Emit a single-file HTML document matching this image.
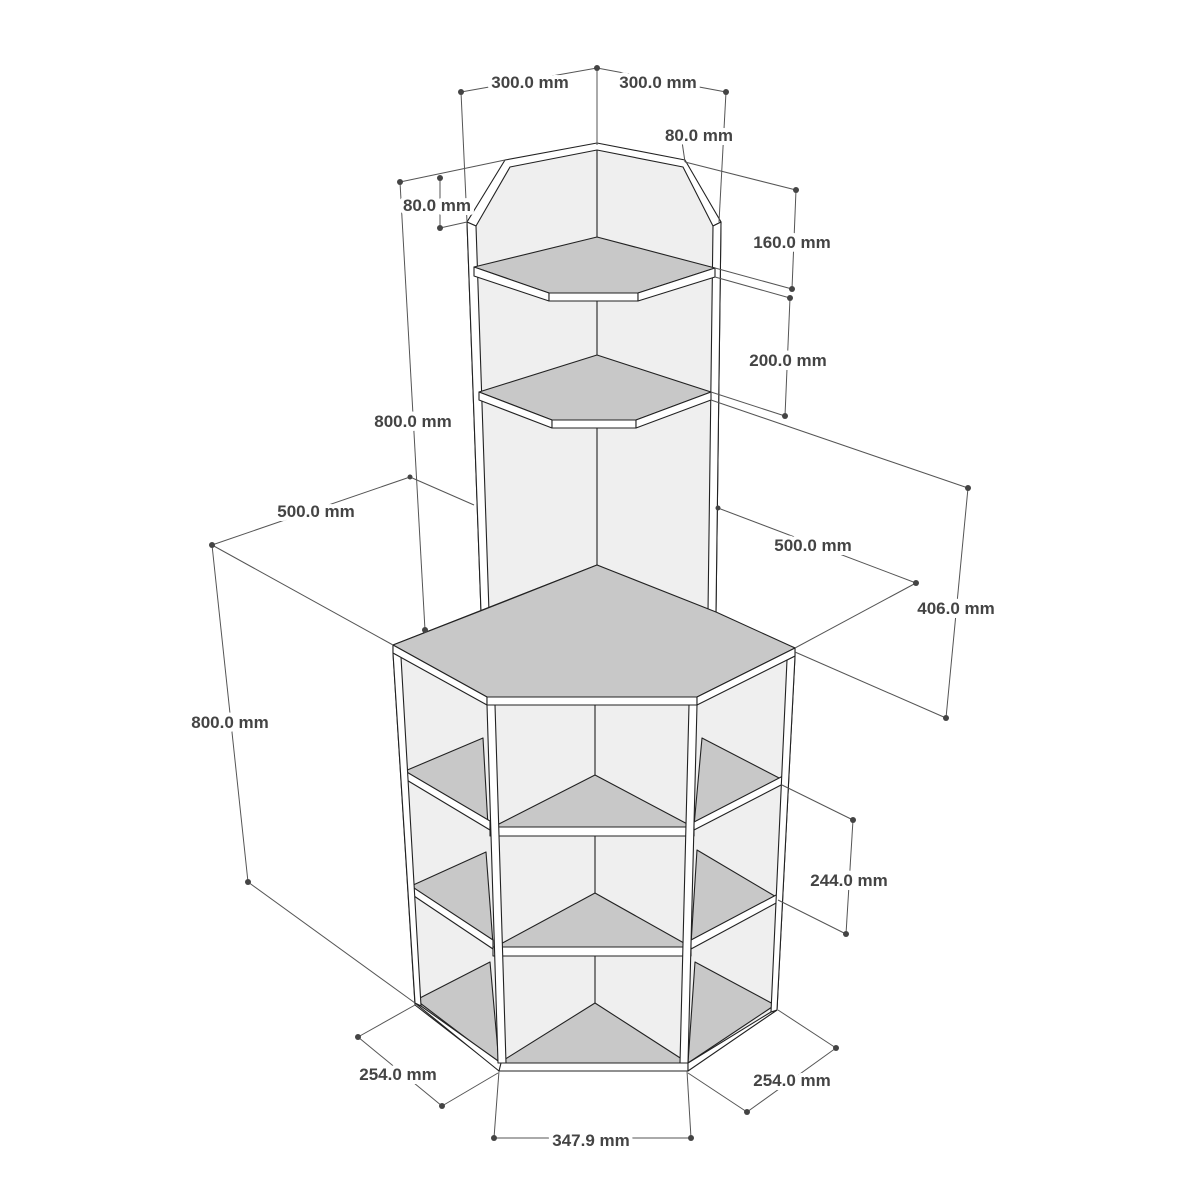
<!DOCTYPE html>
<html><head><style>
html,body{margin:0;padding:0;background:#fff;}
svg{display:block;}
text{font-family:"Liberation Sans",sans-serif;font-weight:bold;font-size:17px;fill:#444;text-anchor:middle;paint-order:stroke;stroke:#fff;stroke-width:8px;stroke-linejoin:round;}
.d{stroke:#555;stroke-width:1;fill:none;}
.p{stroke:#222;stroke-width:1.1;stroke-linejoin:round;}
.l{fill:#efefef;}.k{fill:#c8c8c8;}.w{fill:#fff;}
</style></head><body>
<svg width="1200" height="1200" viewBox="0 0 1200 1200">
<!-- upper unit -->
<polygon class="p l" points="467,222 505,162 597,145 685,162 721,222 716,612 481,612"/>
<polygon class="p w" points="467,222 505,160 597,143 685,160 721,222 713,226 683,167 597,150 510,167 476,226"/>
<polygon class="p w" points="467,222 476,226 489,612 481,612"/>
<polygon class="p w" points="713,226 721,222 716,612 708,612"/>
<line class="p" x1="597" y1="150" x2="597" y2="237"/>
<line class="p" x1="597" y1="301" x2="597" y2="355"/>
<line class="p" x1="597" y1="428" x2="597" y2="566"/>
<polygon class="p k" points="597,237 474,267 549,293 638,293 715,268"/>
<polygon class="p w" points="474,267 549,293 549,301 474,276"/>
<polygon class="p w" points="549,293 638,293 638,301 549,301"/>
<polygon class="p w" points="638,293 715,268 715,277 638,301"/>
<polygon class="p k" points="597,355 479,392 552,420 636,420 711,392"/>
<polygon class="p w" points="479,392 552,420 552,428 479,400"/>
<polygon class="p w" points="552,420 636,420 636,428 552,428"/>
<polygon class="p w" points="636,420 711,392 711,400 636,428"/>
<!-- lower unit -->
<polygon class="p l" points="393,645 597,565 795,648 795,656 777,1010 688,1070 499,1070 415,1005 393,653"/>
<line class="p" x1="595" y1="705" x2="595" y2="775"/>
<line class="p" x1="595" y1="836" x2="595" y2="893"/>
<line class="p" x1="595" y1="956" x2="595" y2="1003"/>
<polygon class="p k" points="595,775 493,827 693,827"/>
<polygon class="p k" points="595,893 495,947 691,947"/>
<polygon class="p k" points="595,1003 499,1063 688,1063"/>
<polygon class="p k" points="405,771 483,738 488,826"/>
<polygon class="p w" points="405,771 490,821 490,830 405,779"/>
<polygon class="p k" points="411,886 486,852 493,944"/>
<polygon class="p w" points="411,886 493,940 493,949 411,894"/>
<polygon class="p k" points="416,1000 490,962 499,1063"/>
<polygon class="p k" points="783,780 702,738 694,826"/>
<polygon class="p w" points="694,822 783,776 783,784 694,830"/>
<polygon class="p k" points="778,898 697,850 691,944"/>
<polygon class="p w" points="691,940 778,894 778,902 691,949"/>
<polygon class="p k" points="775,1005 695,962 688,1063"/>
<polygon class="p w" points="490,827 694,827 694,836 490,836"/>
<polygon class="p w" points="493,947 691,947 691,956 493,956"/>
<polygon class="p w" points="499,1063 688,1063 688,1071 499,1071"/>
<polygon class="p w" points="415,1003 421,1006 501,1063 499,1071"/>
<polygon class="p w" points="771,1012 777,1010 688,1071 688,1063"/>
<polygon class="p w" points="487,705 495,705 506,1063 498,1063"/>
<polygon class="p w" points="689,705 697,705 688,1063 680,1063"/>
<polygon class="p w" points="393,653 401,657 421,1006 415,1003"/>
<polygon class="p w" points="787,660 795,656 777,1010 771,1012"/>
<polygon class="p k" points="393,645 483,610 597,565 716,612 795,648 697,697 487,697"/>
<polygon class="p w" points="393,645 487,697 487,705 393,653"/>
<polygon class="p w" points="487,697 697,697 697,705 487,705"/>
<polygon class="p w" points="697,697 795,648 795,656 697,705"/>
<!-- dimension lines -->
<g class="d">
<line x1="597" y1="68" x2="597" y2="145"/>
<line x1="597" y1="68" x2="461" y2="92"/><line x1="597" y1="68" x2="726" y2="92"/>
<line x1="461" y1="92" x2="467" y2="222"/><line x1="726" y1="92" x2="719" y2="222"/>
<line x1="680" y1="128" x2="685" y2="162"/>
<line x1="400" y1="182" x2="505" y2="160"/><line x1="440" y1="178" x2="440" y2="228"/>
<line x1="440" y1="228" x2="467" y2="222"/>
<line x1="400" y1="182" x2="425" y2="630"/>
<line x1="685" y1="162" x2="796" y2="190"/><line x1="796" y1="190" x2="792" y2="289"/>
<line x1="715" y1="268" x2="792" y2="289"/>
<line x1="715" y1="277" x2="790" y2="298"/><line x1="790" y1="298" x2="785" y2="416"/>
<line x1="711" y1="392" x2="785" y2="416"/>
<line x1="711" y1="400" x2="968" y2="488"/><line x1="968" y1="488" x2="946" y2="718"/>
<line x1="795" y1="652" x2="946" y2="718"/>
<line x1="718" y1="508" x2="916" y2="583"/><line x1="916" y1="583" x2="795" y2="648"/>
<line x1="410" y1="477" x2="212" y2="545"/><line x1="410" y1="477" x2="474" y2="505"/>
<line x1="212" y1="545" x2="393" y2="645"/><line x1="212" y1="545" x2="248" y2="882"/>
<line x1="248" y1="882" x2="415" y2="1003"/>
<line x1="782" y1="785" x2="853" y2="820"/><line x1="853" y1="820" x2="846" y2="934"/>
<line x1="778" y1="900" x2="846" y2="934"/>
<line x1="358" y1="1037" x2="442" y2="1106"/><line x1="358" y1="1037" x2="415" y2="1005"/>
<line x1="442" y1="1106" x2="498" y2="1073"/>
<line x1="836" y1="1048" x2="747" y2="1112"/><line x1="778" y1="1010" x2="836" y2="1048"/>
<line x1="688" y1="1073" x2="747" y2="1112"/>
<line x1="494" y1="1138" x2="691" y2="1138"/>
<line x1="499" y1="1071" x2="494" y2="1138"/><line x1="687" y1="1071" x2="691" y2="1138"/>
</g>
<g fill="#444">
<circle cx="597" cy="68" r="3"/><circle cx="461" cy="92" r="3"/><circle cx="726" cy="92" r="3"/>
<circle cx="680" cy="129" r="3"/><circle cx="400" cy="182" r="3"/><circle cx="440" cy="178" r="3"/><circle cx="440" cy="228" r="3"/>
<circle cx="425" cy="630" r="3"/><circle cx="796" cy="190" r="3"/><circle cx="792" cy="289" r="3"/>
<circle cx="790" cy="298" r="3"/><circle cx="785" cy="416" r="3"/><circle cx="968" cy="488" r="3"/><circle cx="946" cy="718" r="3"/>
<circle cx="916" cy="583" r="3"/><circle cx="718" cy="508" r="2.5"/><circle cx="410" cy="477" r="2.5"/><circle cx="212" cy="545" r="3"/>
<circle cx="248" cy="882" r="3"/><circle cx="853" cy="820" r="3"/><circle cx="846" cy="934" r="3"/>
<circle cx="358" cy="1037" r="3"/><circle cx="442" cy="1106" r="3"/><circle cx="836" cy="1048" r="3"/><circle cx="747" cy="1112" r="3"/>
<circle cx="494" cy="1138" r="3"/><circle cx="691" cy="1138" r="3"/>
</g>
<text x="530" y="88">300.0 mm</text>
<text x="658" y="88">300.0 mm</text>
<text x="699" y="141">80.0 mm</text>
<text x="437" y="211">80.0 mm</text>
<text x="792" y="248">160.0 mm</text>
<text x="788" y="366">200.0 mm</text>
<text x="413" y="427">800.0 mm</text>
<text x="316" y="517">500.0 mm</text>
<text x="813" y="551">500.0 mm</text>
<text x="956" y="614">406.0 mm</text>
<text x="230" y="728">800.0 mm</text>
<text x="849" y="886">244.0 mm</text>
<text x="398" y="1080">254.0 mm</text>
<text x="792" y="1086">254.0 mm</text>
<text x="591" y="1146">347.9 mm</text>
</svg>
</body></html>
